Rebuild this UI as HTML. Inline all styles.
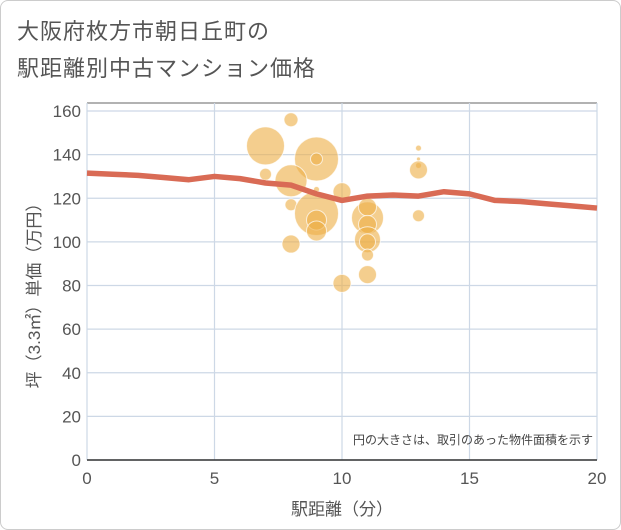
<!DOCTYPE html>
<html><head><meta charset="utf-8"><style>
body{margin:0;background:#fff;font-family:"Liberation Sans","Noto Sans CJK JP",sans-serif;}
#wrap{position:relative;width:619px;height:528px;border:1px solid #ccc;border-radius:8px;overflow:hidden;background:#fff}
.t{position:absolute;left:16px;color:#555;font-size:22px;letter-spacing:1px}
</style></head><body>
<div id="wrap">
<div class="t" style="top:13px">大阪府枚方市朝日丘町の</div>
<div class="t" style="top:50px">駅距離別中古マンション価格</div>
<svg id="svg" width="621" height="530" style="position:absolute;left:-1px;top:-1px"></svg>
</div>
<script>
const xTicks=[0,5,10,15,20];
const yTicks=[0,20,40,60,80,100,120,140,160];
const bubbleX=[7,8,9,9,7,8,9,8,9,9,9,8,10,10,11,11,11,11,11,11,11,13,13,13,13,13];
const bubbleY=[144,156,138,138,131,128,124,117,113,110,105,99,123,81,111,116,108,101,100,94,85,143,138,135,133,112];
const bubbleSize=[19,7,22,6,6,16,3,6,22,10,10,9,9,9,16,9,9,13,8,6,9,3,2,3,9,6];
const lineX=[0,1,2,3,4,5,6,7,8,9,10,11,12,13,14,15,16,17,18,19,20];
const lineY=[131.5,131,130.5,129.5,128.5,130,129,127,126,122,119,121,121.5,121,123,122,119,118.5,117.5,116.5,115.5];
const X0=87,X1=597,Y0=460,Y1=111;
const sx=v=>X0+(X1-X0)*v/20, sy=v=>Y0-(Y0-Y1)*v/160;
const svg=document.getElementById('svg');const NS='http://www.w3.org/2000/svg';
function mk(t,a,p){const e=document.createElementNS(NS,t);for(const k in a)e.setAttribute(k,a[k]);(p||svg).appendChild(e);return e;}
mk('rect',{x:X0,y:103,width:X1-X0,height:Y0-103,fill:'#fff'});
mk('line',{x1:X0,x2:X1,y1:103,y2:103,stroke:'#999','stroke-width':1.5});
yTicks.forEach(v=>{const l=mk('line',{x1:X0,x2:X1,y1:sy(v),y2:sy(v),stroke:'#cdd8e6','stroke-width':1.2});

const t=mk('text',{x:X0-6,y:sy(v)+6,'text-anchor':'end','font-size':17,fill:'#555'});t.textContent=v;
});
xTicks.forEach(v=>{const l=mk('line',{x1:sx(v),x2:sx(v),y1:103,y2:Y0,stroke:'#cdd8e6','stroke-width':1.2});

const t=mk('text',{x:sx(v),y:Y0+24,'text-anchor':'middle','font-size':17,fill:'#555'});t.textContent=v;
});
mk('line',{x1:X0,x2:X1,y1:Y0,y2:Y0,stroke:'#333','stroke-width':1.5});
bubbleX.forEach((v,i)=>{const c=mk('circle',{cx:sx(v),cy:sy(bubbleY[i]),r:bubbleSize[i],fill:'rgba(238,176,72,0.62)',stroke:'rgba(255,255,255,0.7)','stroke-width':1});
});
const p=mk('polyline',{points:lineX.map((v,i)=>sx(v)+','+sy(lineY[i])).join(' '),fill:'none',stroke:'#d96b55','stroke-width':5.5,'stroke-linejoin':'round'});

const n=mk('text',{x:X1-4,y:444,'text-anchor':'end','font-size':12,fill:'#444'});n.textContent='円の大きさは、取引のあった物件面積を示す';

const xt=mk('text',{x:(X0+X1)/2,y:515,'text-anchor':'middle','font-size':17,fill:'#555'});xt.textContent='駅距離（分）';

const yt=mk('text',{x:0,y:0,'text-anchor':'middle','font-size':17,fill:'#555',transform:'translate(40,'+((103+Y0)/2+10)+') rotate(-90)'});yt.textContent='坪（3.3㎡）単価（万円）';

</script>
</body></html>
